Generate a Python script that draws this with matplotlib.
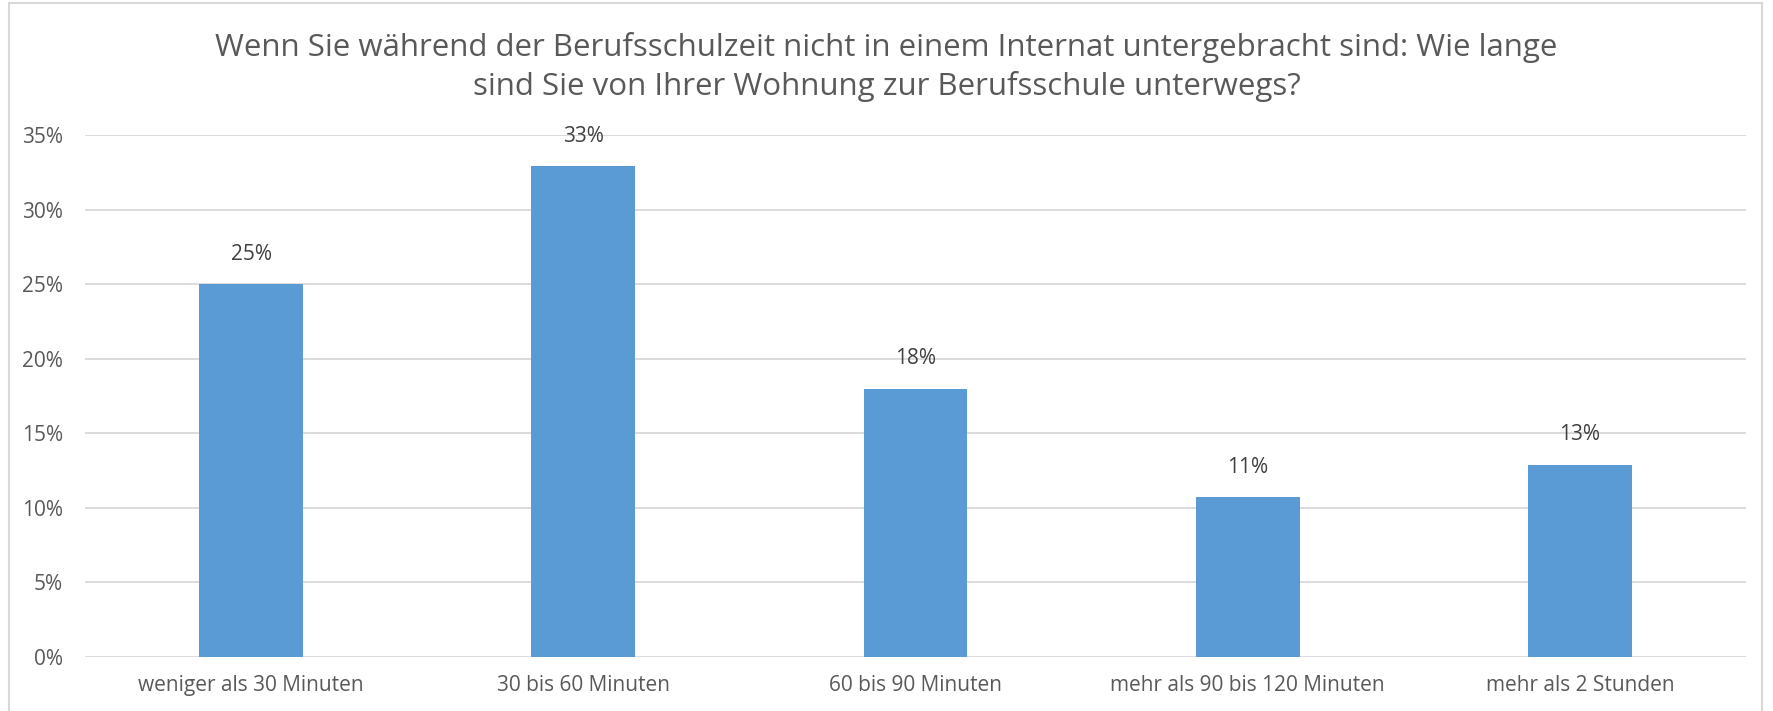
import matplotlib.pyplot as plt
from matplotlib.patches import Rectangle

categories = ["weniger als 30 Minuten", "30 bis 60 Minuten", "60 bis 90 Minuten",
              "mehr als 90 bis 120 Minuten", "mehr als 2 Stunden"]
values = [25.0, 32.9, 18.0, 10.7, 12.9]
labels = ["25%", "33%", "18%", "11%", "13%"]
yticks = [0, 5, 10, 15, 20, 25, 30, 35]

title = ("Wenn Sie während der Berufsschulzeit nicht in einem Internat untergebracht sind: Wie lange\n"
         "sind Sie von Ihrer Wohnung zur Berufsschule unterwegs?")

plt.rcParams['font.family'] = ['Open Sans', 'DejaVu Sans']
text_color = "#595959"

fig = plt.figure(figsize=(17.73, 7.11), dpi=100)
ax = fig.add_axes([85 / 1773, 54 / 711, 1661 / 1773, 522 / 711])

x = range(len(categories))
bars = ax.bar(x, values, width=0.313, color="#5B9BD5", zorder=3)

for b, lab in zip(bars, labels):
    ax.annotate(lab, (b.get_x() + b.get_width() / 2, b.get_height()),
                xytext=(0, 14), textcoords="offset points", ha="center", va="bottom",
                fontsize=15, color="#404040")

ax.set_xlim(-0.5, len(categories) - 0.5)
ax.set_ylim(0, 35)
ax.set_yticks(yticks)
ax.set_yticklabels([f"{t}%" for t in yticks])
ax.set_xticks(list(x))
ax.set_xticklabels(categories)
ax.tick_params(axis="both", length=0, labelsize=15, colors=text_color)
ax.tick_params(axis="y", pad=16)
ax.tick_params(axis="x", pad=13)
ax.grid(axis="y", color="#D9D9D9", linewidth=1.3, zorder=0)
for s in ax.spines.values():
    s.set_visible(False)

fig.text(0.5, 1 - 67 / 711, title, ha="center", va="center", fontsize=22.5,
         color=text_color, linespacing=1.3)

fig.patches.append(Rectangle((9 / 1773, -0.05), 1753 / 1773, 1.05 - 3 / 711,
                             transform=fig.transFigure, fill=False,
                             edgecolor="#D9D9D9", linewidth=1.5))

fig.savefig("out.png", dpi=100)
